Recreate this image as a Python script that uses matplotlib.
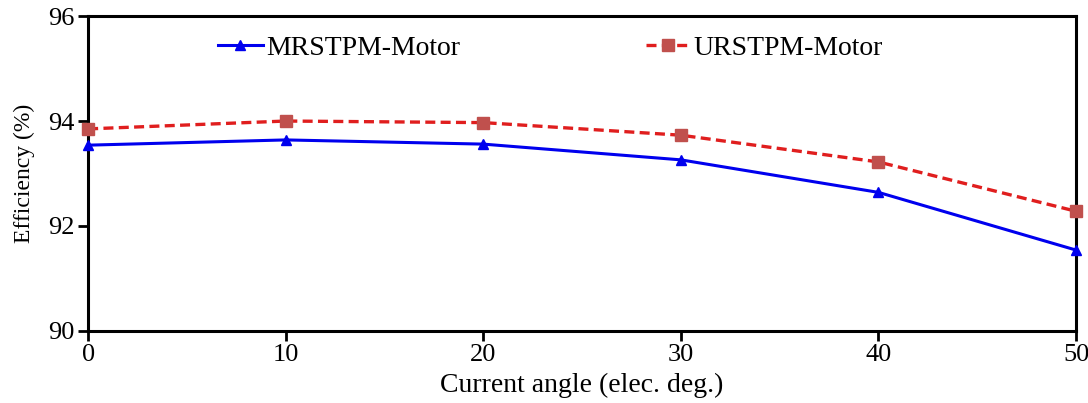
import matplotlib.pyplot as plt

plt.rcParams['font.family'] = ['Liberation Serif', 'DejaVu Serif']

# data
angle = [0, 10, 20, 30, 40, 50]
mrstpm = [93.54, 93.64, 93.56, 93.26, 92.64, 91.54]
urstpm = [93.85, 94.00, 93.97, 93.73, 93.22, 92.28]

fig = plt.figure(figsize=(10.88, 4.03), dpi=100)
ax = fig.add_axes([0.081, 0.179, 0.908, 0.781])

ax.plot(angle, mrstpm, color='#0000ee', linewidth=2.2, marker='^',
        markersize=7, markerfacecolor='#0000ee', markeredgecolor='#0000ee',
        label='MRSTPM-Motor', clip_on=False, zorder=3)
ax.plot(angle, urstpm, color='#e01e1e', linewidth=2.4, linestyle=(0, (3, 1.6)),
        marker='s', markersize=8, markerfacecolor='#c0504d', markeredgecolor='#c0504d',
        label='URSTPM-Motor', clip_on=False, zorder=3)

ax.set_xlim(0, 50)
ax.set_ylim(90, 96)
ax.set_xticks(angle)
ax.set_yticks([90, 92, 94, 96])

ax.set_xlabel('Current angle (elec. deg.)', fontsize=20, labelpad=5)
ax.set_ylabel('Efficiency (%)', fontsize=17, labelpad=10)

for s in ax.spines.values():
    s.set_linewidth(2.2)
ax.tick_params(axis='both', direction='out', width=2, length=7.5, labelsize=19, pad=2)

ax.legend(loc='upper left', bbox_to_anchor=(0.112, 1.0), ncol=2, frameon=False,
          fontsize=20, handlelength=1.6, handletextpad=0.12, columnspacing=6.7,
          borderaxespad=0.4, borderpad=0.3)

fig.savefig('out.png', dpi=100)
